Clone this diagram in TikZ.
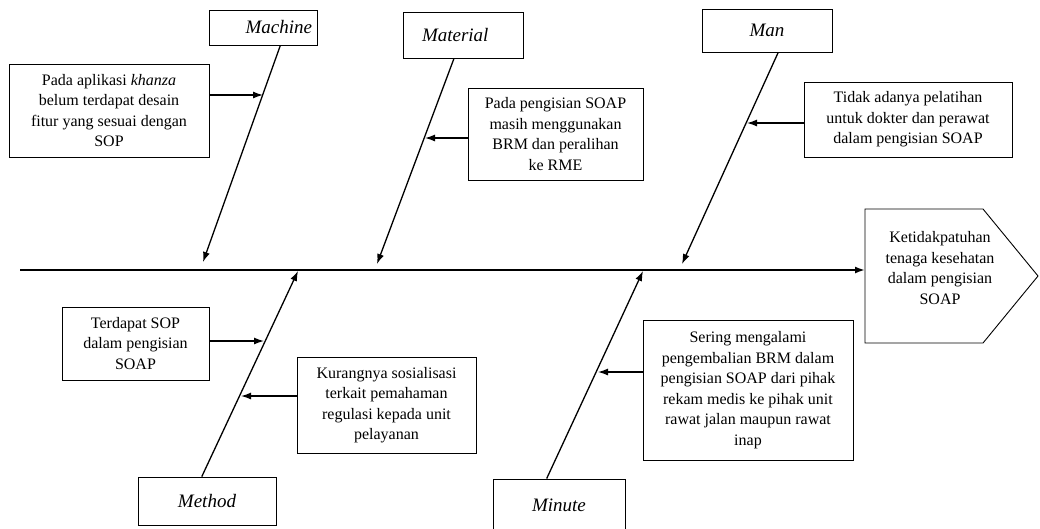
\documentclass[tikz,border=0pt]{standalone}
\usepackage{fontspec}
\setmainfont{Liberation Serif}
\usetikzlibrary{arrows.meta}

\begin{document}
\begin{tikzpicture}
        [
        x=1pt, y=-1pt,
        >={Latex[length=10pt,width=7pt]},
        label/.style={rectangle, draw=black, line width=0.9pt, inner sep=0pt, font=\fontsize{19}{22}\selectfont\itshape},
        cause/.style={rectangle, draw=black, line width=0.9pt, inner sep=0pt, align=center, font=\fontsize{16}{20.5}\selectfont},
        effect/.style={rectangle, inner sep=0pt, align=center, font=\fontsize{16}{20.5}\selectfont},
        head/.style={draw=black, line width=0.9pt},
        bone/.style={->, line width=1.3pt},
        spine/.style={->, line width=1.8pt},
        ]
                \useasboundingbox (0,0) rectangle (1040,528);

                % labels
                \node[label, minimum width=108pt, minimum height=35pt, text width=98pt, align=right] (machine) at (263,27.5) {Machine};
                \node[label, minimum width=120pt, minimum height=46pt, text width=82pt, align=left] (material) at (463,35) {Material};
                \node[label, minimum width=130pt, minimum height=43pt] (man) at (767,30.5) {Man};
                \node[label, minimum width=138pt, minimum height=48pt] (method) at (207,501) {Method};
                \node[label, minimum width=132pt, minimum height=52pt] (minute) at (559,505) {Minute};

                % causes
                \node[cause, minimum width=200pt, minimum height=93pt] (khanza) at (109,110.5)
                        {Pada aplikasi \textit{khanza}\\ belum terdapat desain\\ fitur yang sesuai dengan\\ SOP};
                \node[cause, minimum width=175pt, minimum height=92pt] (brm) at (555.5,134)
                        {Pada pengisian SOAP\\ masih menggunakan\\ BRM dan peralihan\\ ke RME};
                \node[cause, minimum width=208pt, minimum height=75pt] (pelatihan) at (908,119.5)
                        {Tidak adanya pelatihan\\ untuk dokter dan perawat\\ dalam pengisian SOAP};
                \node[cause, minimum width=147pt, minimum height=73pt] (sop) at (135.5,343.5)
                        {Terdapat SOP\\ dalam pengisian\\ SOAP};
                \node[cause, minimum width=179pt, minimum height=96pt] (sosialisasi) at (386.5,405)
                        {Kurangnya sosialisasi\\ terkait pemahaman\\ regulasi kepada unit\\ pelayanan};
                \node[cause, minimum width=210pt, minimum height=140pt] (pengembalian) at (748,390)
                        {Sering mengalami\\ pengembalian BRM dalam\\ pengisian SOAP dari pihak\\ rekam medis ke pihak unit\\ rawat jalan maupun rawat\\ inap};

                % effect
                \draw[head] (865,209) -- (983,209) -- (1038,276) -- (983,343) -- (865,343) -- cycle;
                \node[effect] (effect) at (940,268)
                        {Ketidakpatuhan\\ tenaga kesehatan\\ dalam pengisian\\ SOAP};

                % bone ends
                \coordinate (spineStart) at (20,270);
                \coordinate (headWest) at (865,270);
                \coordinate (machineEnd) at (203,262);
                \coordinate (materialEnd) at (377,264);
                \coordinate (manEnd) at (682,264);
                \coordinate (methodEnd) at (298,271);
                \coordinate (minuteEnd) at (643,271);

                % twig ends
                \coordinate (khanzaEnd) at (263,95);
                \coordinate (brmEnd) at (425,138);
                \coordinate (pelatihanEnd) at (747,123);
                \coordinate (sopEnd) at (264,341);
                \coordinate (sosialisasiEnd) at (241,396);
                \coordinate (pengembalianEnd) at (598,372);

                % drawing code
                \draw[spine] (spineStart) -- (headWest);
                \foreach \from/\to in {machine.-46/machineEnd, material.-111/materialEnd, man.-63/manEnd, method.102/methodEnd, minute.115/minuteEnd}
                        \draw[bone] (\from) -- (\to);
                \foreach \from/\to in {khanza.east/khanzaEnd, sop.east/sopEnd, brm.west/brmEnd, pelatihan.west/pelatihanEnd, sosialisasi.west/sosialisasiEnd, pengembalian.west/pengembalianEnd}
                        \draw[bone] (\from |- \to) -- (\to);
\end{tikzpicture}
\end{document}
